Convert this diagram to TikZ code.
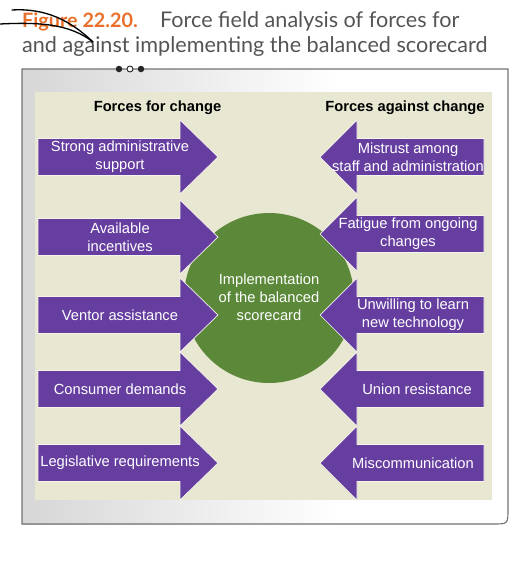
\documentclass[tikz,border=0pt]{standalone}
\usepackage{fontspec}
\setmainfont{Liberation Sans}
\newfontfamily\titlefont{Lato}
\definecolor{purp}{RGB}{101,62,160}
\definecolor{grn}{RGB}{91,137,57}
\definecolor{beige}{RGB}{232,231,210}
\definecolor{orng}{RGB}{232,112,42}
\definecolor{ttl}{RGB}{85,85,85}
\begin{document}
\begin{tikzpicture}[x=1pt,y=-1pt,
  arrowfill/.style={fill=purp,draw=white!60!beige,line width=0.7pt},
  atext/.style={text=white,font=\fontsize{14.7}{18}\selectfont,align=center,inner sep=0pt},
  head/.style={font=\bfseries\fontsize{14.7}{18}\selectfont,inner sep=0pt},
  ttext/.style={font=\titlefont\fontsize{21.6}{24}\selectfont,text=ttl,inner sep=0pt,anchor=base west}]
\useasboundingbox (0,0) rectangle (524,565);
% frame
\fill[white] (22,69) -- (508,69) -- (508,509) .. controls (508,524) .. (493,524) -- (22,524) -- cycle;
\shade[left color=black!16,right color=white] (22,69) rectangle (340,524);
\draw[black!55,line width=1.1pt] (22,69) -- (508,69) -- (508,509) .. controls (508,524) .. (493,524) -- (22,524) -- cycle;
\node (d1) [circle,fill=black!85,minimum size=6.5pt,inner sep=0pt] at (119,69) {};
\node (d2) [circle,fill=white,draw=black!85,line width=0.9pt,minimum size=6pt,inner sep=0pt] at (130,69) {};
\node (d3) [circle,fill=black!85,minimum size=6.5pt,inner sep=0pt] at (141,69) {};
% panel
\fill[beige] (35,92) rectangle (492,500);
% title
\node (t1) [ttext,text=orng,font=\titlefont\bfseries\fontsize{19.8}{24}\selectfont] at (22,27) {Figure 22.20.};
\node (t2) [ttext] at (160,27) {Force field analysis of forces for};
\node (t3) [ttext] at (22,52) {and against implementing the balanced scorecard};
% scribble
\draw[black,line width=1.3pt,line cap=round] (12,10) .. controls (45,8) and (70,20) .. (93,42);
\draw[black,line width=1.3pt,line cap=round] (0,24) .. controls (40,22) and (70,24) .. (93,42);
% headings
\node (hl) [head] at (157.5,108) {Forces for change};
\node (hr) [head] at (405,108) {Forces against change};
% circle
\node (c) [circle,fill=grn,minimum size=170pt,inner sep=0pt] at (269,298) {};
\node (ct) [atext] at (269,297) {Implementation\\of the balanced\\scorecard};
% left arrows
\foreach \y/\n/\t in {157/1/{Strong administrative\\support},237/2/{Available\\incentives},315/3/{Ventor assistance},389/4/{Consumer demands},463/5/{Legislative requirements}}{
  \filldraw[arrowfill] (38,\y-18.5) -- (180,\y-18.5) -- (180,\y-37) -- (218,\y) -- (180,\y+37) -- (180,\y+18.5) -- (38,\y+18.5) -- cycle;
  \node (l\n) [atext] at (120,\y) {\t};
}
% right arrows
\foreach \y/\n/\x/\t in {157/1/408/{Mistrust among\\staff and administration},234/2/408/{Fatigue from ongoing\\changes},315/3/413/{Unwilling to learn\\new technology},389/4/417/{Union resistance},463/5/413/{Miscommunication}}{
  \filldraw[arrowfill] (484,\y-18.5) -- (357,\y-18.5) -- (357,\y-37) -- (320,\y) -- (357,\y+37) -- (357,\y+18.5) -- (484,\y+18.5) -- cycle;
  \node (r\n) [atext] at (\x,\y) {\t};
}
\end{tikzpicture}
\end{document}
